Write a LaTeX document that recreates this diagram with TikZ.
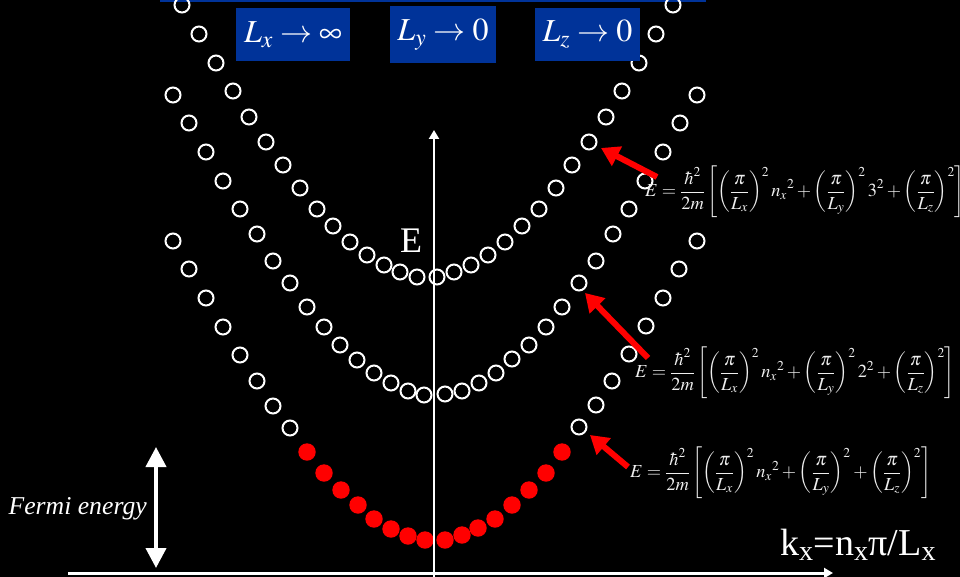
\documentclass[tikz,border=0pt]{standalone}
\usepackage{mathptmx}
\usepackage{exscale}
\usepackage{fontspec}
\setmainfont{Liberation Serif}
\usetikzlibrary{arrows.meta}
\definecolor{boxblue}{RGB}{0,51,153}
\definecolor{eqgray}{RGB}{238,238,238}
\newcommand{\myenergy}[1]{$\displaystyle E=\frac{\hbar^2}{2m}\left[\left(\frac{\pi}{L_x}\right)^2 n_x{}^2+\left(\frac{\pi}{L_y}\right)^2 #1+\left(\frac{\pi}{L_z}\right)^2\right]$}
\begin{document}
\begin{tikzpicture}[x=1pt,y=-1pt,
  ring/.style={circle,draw=white,line width=2pt,minimum size=15pt,inner sep=0pt},
  dot/.style={circle,fill=red,minimum size=17.4pt,inner sep=0pt},
  limbox/.style={fill=boxblue,text=white,inner sep=0pt,font=\fontsize{32}{38}\selectfont},
  eqlabel/.style={text=eqgray,inner sep=0pt,anchor=west,font=\fontsize{18.4}{22}\selectfont},
  redarrow/.style={draw=red,line width=6pt,-{Triangle[length=18pt,width=21pt]}},
  axisline/.style={draw=white,-{Triangle[length=9pt,width=10pt]}}]
\useasboundingbox (0,0) rectangle (960,577);
\fill[black] (0,0) rectangle (960,577);
% top blue rule
\fill[boxblue] (160,0) rectangle (706,2);
% upper band (n_y=3)
\foreach \px/\py [count=\i] in {182/5,199/34,216/63,233/91,249/117,266/142,283/165,300/188,317/209,333/226,350/242,367/255,384/265,400/272,417/277,437/277,454/272,471/265,488/255,505/242,522/226,539/209,556/188,572/165,589/142,606/117,622/91,639/63,656/34,673/5}
  \node[ring] (u\i) at (\px,\py) {};
% middle band (n_y=2)
\foreach \px/\py [count=\i] in {173/95,189/123,206/152,223/181,240/209,257/234,273/261,290/283,307/307,324/327,340/345,357/360,374/373,391/383,408/391,424/395,445/394,462/391,479/383,496/373,512/359,529/345,546/327,562/307,579/283,596/261,613/234,629/209,645/181,663/152,680/123,697/95}
  \node[ring] (m\i) at (\px,\py) {};
% lowest band, empty states
\foreach \px/\py [count=\i] in {173/241,189/269,206/298,223/327,240/355,257/381,273/406,290/428,579/427,596/405,612/381,629/354,646/326,663/298,679/269,697/241}
  \node[ring] (l\i) at (\px,\py) {};
% lowest band, filled states
\foreach \px/\py [count=\i] in {307/452,324/473,341/490,358/505,374/519,391/529,408/536,425/540,445/540,462/535,478/528,495/519,512/505,529/490,546/473,562/452}
  \node[dot] (f\i) at (\px,\py) {};
% axes
\coordinate (xs) at (68,573);
\coordinate (xe) at (833,573);
\coordinate (ys) at (434,577);
\coordinate (ye) at (434,130);
\draw[axisline,line width=3pt] (xs) -- (xe);
\draw[axisline,line width=2.5pt] (ys) -- (ye);
\node[text=white,font=\fontsize{36}{40}\selectfont,inner sep=0pt] (elab) at (411,241) {E};
\node[text=white,font=\fontsize{38}{44}\selectfont,inner sep=0pt,anchor=base west] (klab) at (780,555) {k\textsubscript{x}=n\textsubscript{x}π/L\textsubscript{x}};
% Fermi energy
\coordinate (fa) at (156,447);
\coordinate (fb) at (156,568);
\draw[white,line width=4pt,{Triangle[length=20pt,width=20pt]}-{Triangle[length=20pt,width=20pt]}] (fa) -- (fb);
\node[text=white,font=\fontsize{25.7}{30}\selectfont\itshape,inner sep=0pt,anchor=east] (fermi) at (147,509) {Fermi energy};
% limit boxes
\node[limbox,minimum width=114pt,minimum height=53pt] (bx) at (293,34.5) {$L_x\to\infty$};
\node[limbox,minimum width=106pt,minimum height=57pt] (by) at (443,34.5) {$L_y\to 0$};
\node[limbox,minimum width=105pt,minimum height=53pt] (bz) at (587.5,34.5) {$L_z\to 0$};
% red arrows
\coordinate (r1s) at (657,177); \coordinate (r1e) at (601,148);
\coordinate (r2s) at (648,358); \coordinate (r2e) at (585,293);
\coordinate (r3s) at (628,467); \coordinate (r3e) at (590,435);
\draw[redarrow] (r1s) -- (r1e);
\draw[redarrow] (r2s) -- (r2e);
\draw[redarrow] (r3s) -- (r3e);
% energy formulas
\node[eqlabel] (eq1) at (645,192) {\myenergy{3^2}};
\node[eqlabel] (eq2) at (635,373) {\myenergy{2^2}};
\node[eqlabel] (eq3) at (630,473) {\myenergy{}};
\end{tikzpicture}
\end{document}
